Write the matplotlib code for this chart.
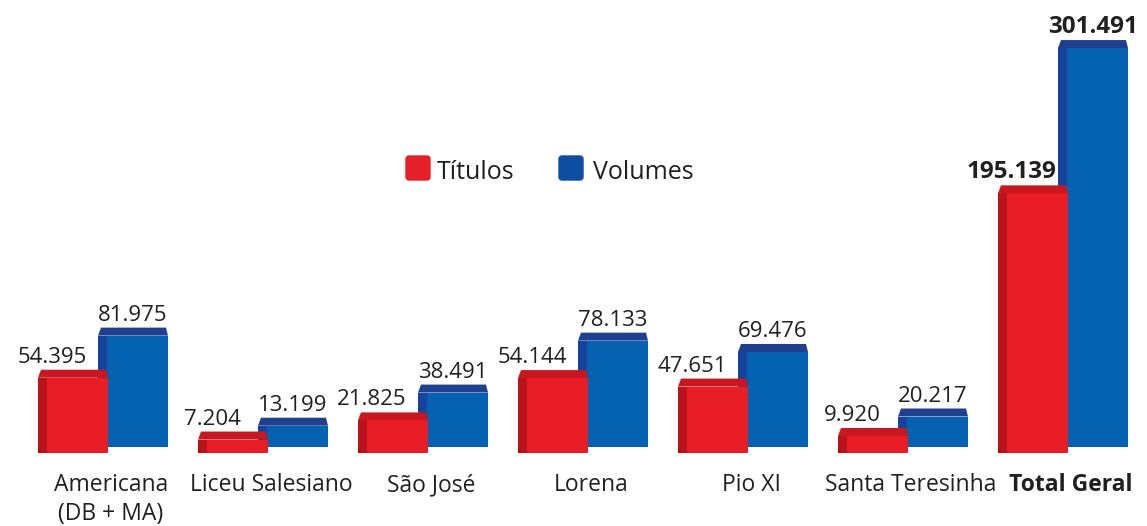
import matplotlib
matplotlib.use("Agg")
import matplotlib.pyplot as plt
from matplotlib.patches import Rectangle, Polygon, FancyBboxPatch

# data
categorias = ["Americana\n(DB + MA)", "Liceu Salesiano", "São José", "Lorena",
              "Pio XI", "Santa Teresinha", "Total Geral"]
titulos = [54395, 7204, 21825, 54144, 47651, 9920, 195139]
volumes = [81975, 13199, 38491, 78133, 69476, 20217, 301491]
series = ["Títulos", "Volumes"]

plt.rcParams['font.family'] = ['Open Sans', 'DejaVu Sans']

W, H = 1147, 526
fig = plt.figure(figsize=(W / 100, H / 100), dpi=100)
ax = fig.add_axes([0, 0, 1, 1])

# scales: one group = 160 px, 1000 units = 1.31 px
PX_X = 1 / 160.0
PX_Y = 1000 / 1.31
ZERO = 449  # pixel row of value 0
ax.set_xlim(-103 * PX_X, (W - 103) * PX_X)
ax.set_ylim(-(H - ZERO) * PX_Y, ZERO * PX_Y)
ax.axis("off")

BASE = -4 * PX_Y           # plinth below zero
BAR_W = 70 * PX_X
BACK_UP = 6 * PX_Y          # blue bar sits a bit behind
TOP_D = 8 * PX_Y
STRIP = 9 * PX_X
RED = ["#e81d25", "#b8121a", "#c9161f"]
BLUE = ["#0562b0", "#17449a", "#1f3f8f"]
INK = "#231f20"


def fmt(v):
    return f"{v:,}".replace(",", ".")


def bar3d(x, bottom, top, cols, z):
    front, side, topc = cols
    ax.add_patch(Rectangle((x, bottom), BAR_W, top - bottom, color=front, zorder=z, lw=0))
    ax.add_patch(Rectangle((x, bottom), STRIP, top - bottom, color=side, zorder=z, lw=0))
    ax.add_patch(Polygon([(x, top), (x + BAR_W, top),
                          (x + BAR_W - 2 * PX_X, top + TOP_D), (x + 3 * PX_X, top + TOP_D)],
                         closed=True, color=topc, zorder=z, lw=0))


for i, (cat, t, v) in enumerate(zip(categorias, titulos, volumes)):
    red_x = i - 65 * PX_X
    blue_x = i - 5 * PX_X
    total = cat == "Total Geral"
    bold = "bold" if total else "normal"
    vsize = 17.5 if total else 16

    # blue (behind)
    b_top = v + BACK_UP
    bar3d(blue_x, BASE + BACK_UP, b_top, BLUE, 2)
    ax.text(blue_x + BAR_W / 2, b_top + TOP_D + 7 * PX_Y, fmt(v), ha="center",
            va="baseline", fontsize=vsize, color=INK, weight=bold, zorder=5)

    # red (front)
    bar3d(red_x, BASE, t, RED, 3)
    ax.text(red_x + BAR_W / 2 - 21 * PX_X, t + TOP_D + 7 * PX_Y, fmt(t), ha="center",
            va="baseline", fontsize=vsize, color=INK, weight=bold, zorder=5)

    ax.text(i + 8 * PX_X, BASE - 20 * PX_Y, cat, ha="center", va="top", fontsize=16.5,
            color=INK, weight=bold, linespacing=1.3)

# legend with rounded squares (pixel positions, origin at bottom-left)
for name, col, sx, tx in zip(series, ["#e52028", "#0d4ea2"], [406, 559], [437, 593]):
    fig.patches.append(FancyBboxPatch((sx + 3, H - 180 + 3), 18, 18,
                                      boxstyle="round,pad=3", color=col,
                                      transform=None, figure=fig))
    fig.text(tx / W, 1 - 179 / H, name, ha="left", va="baseline", fontsize=18, color=INK)

fig.savefig("out.png", dpi=100)
